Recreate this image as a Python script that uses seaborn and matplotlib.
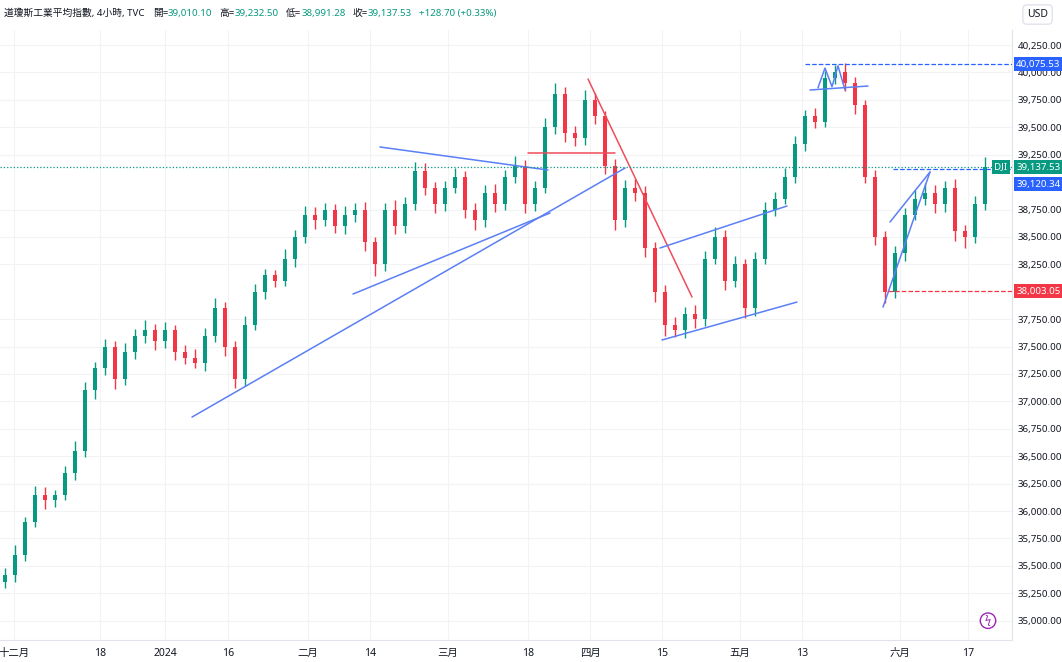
import matplotlib
matplotlib.use('Agg')
import matplotlib.pyplot as plt
import seaborn as sns
import numpy as np
from matplotlib import font_manager

names = {f.name for f in font_manager.fontManager.ttflist}
cjk = [n for n in ['Noto Sans CJK TC', 'Noto Sans CJK JP', 'Noto Sans CJK SC', 'Noto Sans CJK KR'] if n in names]
sns.set_style('white')
plt.rcParams['font.family'] = ['Noto Sans'] + cjk + ['DejaVu Sans']

# closes of (roughly) every 4h candle
closes = [35420, 35600, 35900, 36150, 36100, 36150, 36350, 36550, 37100, 37300,
          37500, 37200, 37450, 37600, 37650, 37550, 37650, 37450, 37400, 37350,
          37600, 37850, 37500, 37200, 37700, 38000, 38150, 38100, 38300, 38500,
          38700, 38650, 38750, 38600, 38700, 38750, 38450, 38250, 38750, 38600,
          38800, 39100, 38950, 38800, 38950, 39050, 38750, 38650, 38900, 38800,
          39050, 39150, 38800, 38950, 39500, 39800, 39450, 39400, 39750, 39600,
          39150, 38650, 38950, 38900, 38400, 38000, 37700, 37650, 37800, 37750,
          38300, 38500, 38100, 38250, 37850, 38300, 38750, 38850, 39050, 39350,
          39600, 39550, 39950, 40000, 39900, 39700, 39050, 38500, 38000, 38350,
          38700, 38850, 38900, 38800, 38950, 38550, 38500, 38800, 39137.53]
first_open = 35350
wick_up = [60, 90, 50, 80, 70, 40, 60, 90, 80, 60, 70, 50, 80, 60, 90, 60, 70, 50, 60, 80,
           70, 90, 60, 50, 80, 70, 60, 50, 90, 60, 80, 70, 60, 50, 80, 60, 70, 50, 60, 90,
           60, 80, 70, 50, 60, 80, 50, 60, 70, 80, 60, 90, 50, 60, 80, 100, 70, 60, 90, 60,
           50, 60, 70, 80, 60, 50, 60, 70, 60, 80, 70, 90, 60, 80, 50, 60, 70, 60, 80, 70,
           60, 80, 60, 70, 90, 60, 50, 60, 50, 70, 60, 80, 90, 70, 60, 80, 60, 70, 90]
wick_dn = [50, 70, 60, 50, 80, 60, 50, 70, 60, 80, 60, 90, 50, 60, 70, 80, 60, 70, 60, 50,
           70, 60, 90, 80, 60, 50, 70, 60, 50, 70, 60, 80, 50, 60, 70, 60, 80, 110, 60, 70,
           60, 50, 70, 80, 60, 50, 80, 90, 60, 70, 50, 60, 80, 60, 50, 60, 80, 70, 60, 70,
           80, 90, 60, 70, 80, 90, 100, 60, 70, 80, 60, 50, 80, 60, 90, 70, 50, 60, 50, 60,
           70, 60, 50, 60, 70, 80, 60, 70, 100, 60, 70, 50, 60, 80, 70, 90, 100, 60, 50]

# drawn trend lines: (x0, p0, x1, p1, color)
trend_lines = [
    (192, 36857, 625, 39128, '#5b7ff5'),
    (353, 37979, 550, 38718, '#5b7ff5'),
    (380, 39320, 548, 39110, '#5b7ff5'),
    (528, 39265, 615, 39265, '#f04c5a'),
    (588, 39940, 692, 37952, '#f04c5a'),
    (660, 38399, 787, 38782, '#5b7ff5'),
    (662, 37560, 797, 37906, '#5b7ff5'),
    (810, 39840, 868, 39876, '#5b7ff5'),
    (883, 37860, 930, 39092, '#5b7ff5'),
    (890, 38636, 930, 39092, '#5b7ff5'),
]
m_x = [818, 825, 832, 838, 845]
m_p = [39860, 40040, 39870, 40060, 39840]

tick_prices = [35000, 35250, 35500, 35750, 36000, 36250, 36500, 36750, 37000, 37250,
               37500, 37750, 38250, 38500, 38750, 39250, 39500, 39750, 40000, 40250]
date_pos = [14, 100, 165, 228, 308, 370, 448, 528, 590, 662, 740, 802, 900, 968]
date_labels = ['十二月', '18', '2024', '16', '二月', '14', '三月', '18', '四月', '15',
               '五月', '13', '六月', '17']

fig = plt.figure(figsize=(10.62, 6.62), dpi=100)
ax = fig.add_axes([0, 1 - 640 / 662, 1012 / 1062, 610 / 662])
ax.set_xlim(0, 1012)
ax.set_ylim(34824, 40387)

up_c, dn_c = '#089981', '#f23645'
opens = [first_open] + closes[:-1]
xs = np.arange(len(closes)) * 10 + 5
for x, o, c, wu, wd in zip(xs, opens, closes, wick_up, wick_dn):
    col = up_c if c >= o else dn_c
    ax.vlines(x, min(o, c) - wd, max(o, c) + wu, color=col, lw=1)
    ax.bar(x, max(abs(c - o), 8), bottom=min(o, c), width=4, color=col, lw=0)

for x0, p0, x1, p1, col in trend_lines:
    ax.plot([x0, x1], [p0, p1], color=col, lw=1.1)
ax.plot(m_x, m_p, color='#5b7ff5', lw=1.1)

ax.hlines(40075.53, 805, 1012, color='#2962ff', ls='--', lw=0.9)
ax.hlines(39120.34, 893, 1012, color='#2962ff', ls='--', lw=0.9)
ax.hlines(38003.05, 888, 1012, color='#f23645', ls='--', lw=0.9)
ax.axhline(39137.53, color=up_c, ls=':', lw=0.9)

for p in tick_prices:
    ax.axhline(p, color='#f2f3f5', lw=0.8, zorder=0)
for d in date_pos:
    ax.axvline(d, color='#f2f3f5', lw=0.8, zorder=0)

ax.set_xticks(date_pos)
ax.set_xticklabels(date_labels, fontsize=7.5, color='#131722')
ax.yaxis.tick_right()
ax.set_yticks(tick_prices)
ax.set_yticklabels([f'{p:,.2f}' for p in tick_prices], fontsize=7, color='#131722')
ax.tick_params(length=0, pad=6)
ax.tick_params(axis='y', pad=4)
for s in ax.spines.values():
    s.set_visible(False)
ax.spines['right'].set_visible(True)
ax.spines['right'].set_color('#e0e3eb')
ax.spines['bottom'].set_visible(True)
ax.spines['bottom'].set_color('#e0e3eb')

def price_tag(p, txt, col):
    ax.annotate(txt, xy=(1.0, p), xycoords=('axes fraction', 'data'), xytext=(3, 0),
                textcoords='offset points', va='center', ha='left', fontsize=7, color='white',
                bbox=dict(boxstyle='square,pad=0.25', fc=col, ec='none'))

price_tag(40075.53, '40,075.53', '#2962ff')
price_tag(39137.53, '39,137.53', up_c)
price_tag(39120.34 - 140, '39,120.34', '#2962ff')
price_tag(38003.05, '38,003.05', '#f23645')
ax.text(1001, 39137.53, 'DJI', fontsize=7, color='white', ha='center', va='center',
        bbox=dict(boxstyle='square,pad=0.25', fc=up_c, ec='none'))

# header line: chain the pieces so they never overlap
header = [('道瓊斯工業平均指數, 4小時, TVC', '#131722', 8),
          ('開=', '#131722', 0), ('39,010.10', up_c, 7),
          ('高=', '#131722', 0), ('39,232.50', up_c, 7),
          ('低=', '#131722', 0), ('38,991.28', up_c, 7),
          ('收=', '#131722', 0), ('39,137.53', up_c, 7),
          ('+128.70 (+0.33%)', up_c, 0)]
prev = fig.text(0.004, 0.98, header[0][0], fontsize=7, color=header[0][1], va='center')
gap = header[0][2]
for txt, col, g in header[1:]:
    prev = fig.text(0, 0, txt, fontsize=7, color=col, va='center',
                    transform=matplotlib.transforms.offset_copy(
                        fig.transFigure, fig=fig, x=0, y=0, units='dots'))
    prev.set_position((0, 0))
    prev = prev
    prev._anchor_prev = gap
    gap = g

# place chained texts after layout
fig.canvas.draw()
r = fig.canvas.get_renderer()
texts = fig.texts
x = texts[0].get_window_extent(r).x1
for t in texts[1:]:
    t.set_transform(matplotlib.transforms.IdentityTransform())
    t.set_position((x + t._anchor_prev, 0.98 * 662))
    x = t.get_window_extent(r).x1

fig.text(0.977, 0.978, 'USD', fontsize=7.5, color='#131722', ha='center', va='center',
         bbox=dict(boxstyle='round,pad=0.4', fc='white', ec='#e0e3eb'))
ax.text(988, 35000, 'ϟ', fontsize=8, color='#9c27b0', ha='center', va='center',
        bbox=dict(boxstyle='circle,pad=0.2', fc='white', ec='#9c27b0'))

fig.savefig('out.png', dpi=100)
